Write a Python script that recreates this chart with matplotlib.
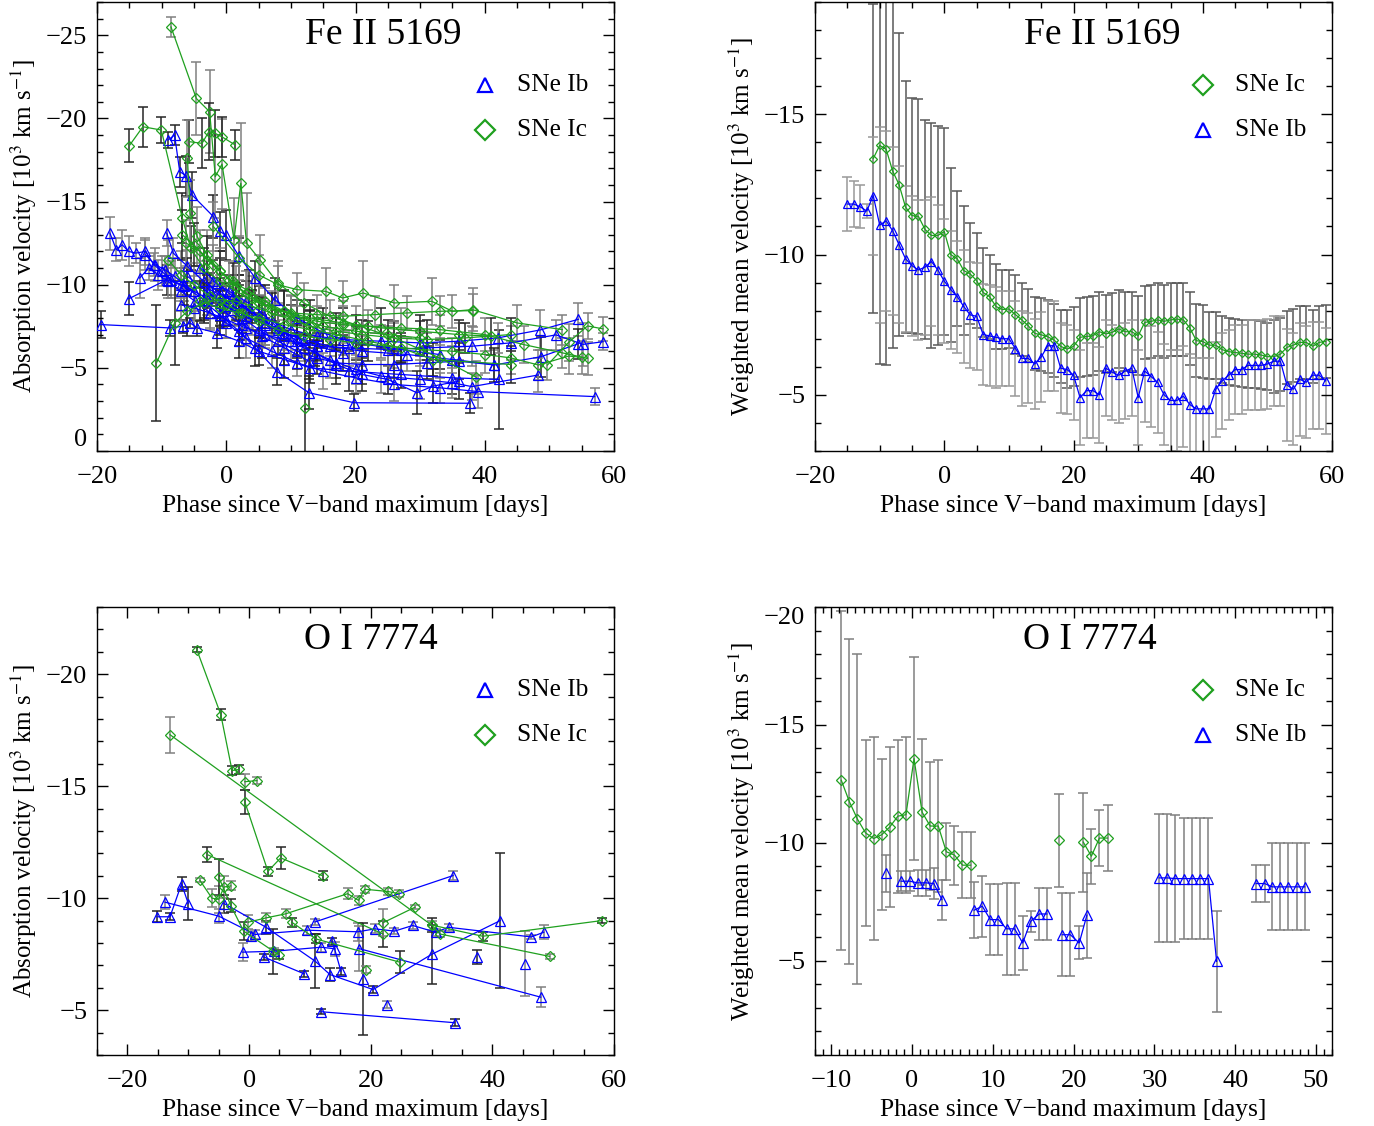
import matplotlib
matplotlib.use('Agg')
import matplotlib.pyplot as plt
import numpy as np
from matplotlib.ticker import MultipleLocator

plt.rcParams['font.family'] = 'Liberation Serif'
plt.rcParams['mathtext.fontset'] = 'stix'

BLUE = '#0000ff'
GREEN = '#1fa01f'
nan = np.nan

#%% Fe II 5169, individual SNe (phase, velocity, error)
fe_ib_phase = [
    [-19.4, -8.7, -6.7, -5.6, -4.5, -1.5, 2, 5, 9, 13, 19, 27, 35, 42.2],
    [-18.0, -17.0, -16.1, -15.1, -14.0, -12.5, -11.2, -10.0, -8.5, -7, -5, -3, -1, 1, 3, 6, 9, 12, 16, 21, 28, 35, 41.5],
    [-15.1, -9.2, -6.5, -3.5, -0.5, 2.5, 5.5, 9, 12.8],
    [-13.4, -12.0, -10.5, -9.0, -7.0, -4.8, -2.5, 0, 3, 7, 11, 15, 20, 26, 33, 39.0, 57.0],
    [-9.0, -8.0, -7.2, -6.2, -5.3, -2.0, -1.0, -0.1, 2, 4.5, 7.5, 11, 15, 20, 27, 33],
    [-9.2, -8.2, -6, -3.5, -1, 1.5, 4, 7, 10, 14, 18, 24, 30, 36, 42, 48.6, 54.5],
    [-3.5, -1, 2, 4.5, 7.9, 12.8, 19.8, 37.7],
    [-7, -5, -2.5, 0, 3, 6, 10, 14, 19, 25, 31, 38, 44, 51.0, 55.2, 58.3],
    [-6, -3, 0, 2.5, 5, 8, 11, 14, 17, 21, 26, 31, 36, 41.5, 48.7, 54.5],
    [-4, -1.5, 1, 3.5, 6, 9, 12, 16, 20, 24, 30, 35, 38.0, 48.3],
    [-2, 0.5, 3, 5.5, 8, 11, 13.7, 17, 21, 25, 29.5, 32, 36],
    [-12.5, -11, -9.5, -8, -6.5, -5],
    [-2.5, 0, 2, 5, 8, 11, 14, 18],
]
fe_ib_vel = [
    [-7.6, -7.4, -7.5, -7.7, -7.4, -7.1, -6.6, -6.0, -5.5, -5.0, -4.8, -4.6, -4.4, -4.3],
    [-13.1, -12.1, -12.4, -12.0, -11.9, -12.0, -11.2, -10.8, -10.3, -10.0, -9.6, -9.2, -8.9, -8.5, -8.1, -7.6, -7.1, -6.7, -6.3, -6.0, -5.8, -5.5, -5.2],
    [-9.15, -10.3, -9.9, -9.1, -8.4, -7.6, -6.9, -6.2, -5.4],
    [-10.4, -11.0, -10.6, -10.2, -9.6, -9.0, -8.3, -7.7, -6.8, -6.0, -5.3, -4.8, -4.4, -4.0, -3.8, -3.57, -3.27],
    [-18.7, -19.0, -16.8, -16.55, -15.4, -14.1, -13.2, -13.0, -11.7, -10.4, -9.1, -8.0, -7.1, -6.5, -6.1, -5.8],
    [-13.1, -11.9, -11.1, -10.2, -9.5, -8.9, -8.3, -7.8, -7.3, -6.9, -6.7, -6.6, -6.5, -6.6, -6.8, -7.28, -7.92],
    [-9.0, -8.2, -7.2, -6.2, -4.77, -3.5, -2.9, -2.87],
    [-8.8, -8.6, -8.3, -7.9, -7.4, -7.0, -6.6, -6.3, -6.2, -6.1, -6.2, -6.3, -6.5, -6.98, -6.41, -6.57],
    [-10.5, -9.6, -8.7, -8.0, -7.3, -6.6, -6.0, -5.6, -5.3, -5.2, -5.2, -5.3, -5.4, -5.17, -5.67, -6.45],
    [-11.0, -10.1, -9.3, -8.5, -7.7, -6.9, -6.2, -5.5, -4.9, -4.5, -4.3, -4.1, -3.87, -4.57],
    [-10.2, -9.6, -9.0, -8.3, -7.4, -6.6, -5.9, -5.2, -4.6, -4.3, -3.5, -3.9, -4.2],
    [-11.8, -11.2, -10.9, -10.5, -10.0, -9.6],
    [-9.7, -9.2, -8.9, -8.1, -7.3, -6.8, -6.3, -5.9],
]
fe_ib_err = [
    [0.8, 0.5, 0.4, 0.3, 0.5, 0.9, 1.0, 0.8, 1.1, 0.9, 1.2, 0.8, 1.0, 3.0],
    [1.0, 0.7, 0.9, 0.9, 0.6, 0.8, 0.7, 0.9, 1.1, 1.0, 1.2, 1.0, 1.3, 1.0, 0.9, 1.2, 1.0, 0.8, 1.1, 0.9, 1.0, 0.8, 0.9],
    [1.0, 0.9, 1.1, 1.2, 1.0, 0.9, 1.3, 1.0, 1.1],
    [1.2, 0.7, 0.9, 1.0, 1.2, 1.1, 1.0, 0.9, 1.2, 1.0, 0.8, 1.1, 0.9, 1.0, 0.9, 1.0, 0.5],
    [0.5, 0.6, 0.9, 1.2, 1.4, 1.3, 1.2, 1.5, 1.1, 1.0, 1.3, 1.1, 0.9, 1.0, 0.8, 0.9],
    [0.8, 0.9, 1.0, 1.2, 1.1, 0.9, 1.3, 1.0, 0.8, 1.1, 0.9, 1.0, 0.8, 1.1, 0.9, 1.2, 1.0],
    [1.0, 1.2, 0.9, 1.1, 0.8, 1.0, 0.5, 0.6],
    [1.0, 1.2, 0.9, 1.1, 1.0, 0.8, 1.2, 0.9, 1.1, 1.0, 0.9, 1.2, 1.0, 0.9, 1.3, 0.5],
    [1.1, 1.0, 1.2, 0.9, 1.0, 0.8, 1.1, 1.0, 0.9, 1.2, 0.8, 1.0, 1.1, 1.0, 1.2, 0.9],
    [1.2, 1.0, 0.9, 1.1, 1.3, 1.0, 0.8, 1.1, 0.9, 1.0, 1.2, 0.9, 0.8, 1.0],
    [1.3, 1.0, 1.2, 0.9, 1.1, 1.0, 0.8, 1.2, 1.0, 0.9, 1.3, 1.0, 1.1],
    [0.9, 1.0, 0.8, 1.1, 1.0, 0.9],
    [1.0, 0.9, 1.1, 1.2, 0.9, 1.0, 0.8, 1.1],
]

fe_ic_phase = [
    [-15.0, -12.9, -10.05, -6.8, -5.5, -3.5, -1, 2, 5, 9, 13, 18, 24, 30, 36, 41],
    [-8.55, -4.63, -2.57, -1.7, -0.66, 1.2, 2.25, 3.14, 5.2, 8, 12, 16, 20, 26, 33, 38.7],
    [-5.7, -3.75, -2.7, -1.7, -0.7, 1.4],
    [-6.0, -5.6, -4.5, -3, -1, 1.5, 4, 7, 10, 14, 18, 23, 28, 33, 38.1],
    [-10.8, -8.0, -6, -3.5, -1, 1.5, 4, 7, 10, 13, 17, 21, 26, 31, 37, 44],
    [-9.0, -7, -5, -2.5, 0, 2.5, 5, 8, 12, 16, 20, 25, 30, 35, 40, 44, 48.3, 53.0, 55.0],
    [-6.8, -5.0, -3, -1, 1, 3.5, 6, 9, 12, 15, 20, 25, 30],
    [-6.2, -4, -2, 0.5, 3, 6, 10, 14, 18, 22, 27, 33, 40, 46, 52, 55.9],
    [12.2],
    [-2, 2, 5, 8, 11, 15.4, 18, 21.2, 26, 31.8, 35, 38.1, 45, 52],
    [-4, -1, 2, 5, 9, 13, 17, 22, 27, 32, 44],
    [49.7, 53.0, 55.9, 58.3],
]
fe_ic_vel = [
    [-18.36, -19.5, -19.3, -14.0, -12.2, -11.0, -10.2, -9.5, -8.9, -8.4, -8.0, -7.7, -7.4, -7.2, -7.0, -6.9],
    [-25.5, -21.2, -20.4, -16.5, -17.25, -12.7, -16.1, -12.5, -11.5, -10.1, -8.9, -8.1, -7.6, -6.8, -5.6, -4.43],
    [-18.6, -18.5, -19.2, -19.1, -18.9, -18.4],
    [-17.6, -14.3, -12.9, -11.8, -10.8, -9.9, -9.2, -8.5, -8.3, -8.2, -8.1, -8.2, -8.3, -8.4, -8.44],
    [-5.3, -7.7, -8.4, -8.9, -9.1, -9.0, -8.7, -8.3, -7.9, -7.5, -7.2, -7.0, -6.8, -6.7, -6.8, -7.0],
    [-11.5, -10.6, -10.0, -9.3, -8.8, -8.3, -7.8, -7.3, -6.9, -6.7, -6.5, -6.3, -6.1, -6.0, -5.8, -5.6, -5.17, -5.71, -5.63],
    [-13.0, -12.4, -11.5, -10.8, -10.2, -9.6, -9.0, -8.4, -7.9, -7.5, -7.2, -7.0, -6.8],
    [-12.5, -12.0, -11.2, -10.3, -9.5, -8.8, -8.2, -7.8, -7.6, -7.5, -7.4, -7.3, -7.0, -6.4, -5.9, -5.57],
    [-2.57],
    [-13.5, -11.6, -10.6, -10.0, -9.7, -9.6, -9.2, -9.5, -8.9, -9.0, -8.4, -8.5, -7.7, -7.3],
    [-9.0, -8.6, -8.3, -8.0, -7.6, -7.3, -7.0, -6.6, -6.2, -5.5, -5.2],
    [-5.17, -6.54, -7.52, -7.34],
]
fe_ic_err = [
    [1.0, 1.2, 0.8, 1.5, 1.3, 1.2, 1.4, 1.1, 1.0, 1.3, 1.1, 0.9, 1.2, 1.0, 0.9, 1.1],
    [0.6, 2.2, 2.5, 2.5, 2.7, 2.5, 3.6, 3.0, 1.5, 1.3, 1.2, 1.0, 1.1, 0.9, 1.2, 1.0],
    [1.3, 1.5, 1.7, 1.4, 1.2, 0.9],
    [2.3, 2.0, 1.8, 1.5, 1.4, 1.2, 1.3, 1.1, 1.0, 1.2, 0.9, 1.1, 1.0, 0.9, 1.0],
    [3.5, 2.5, 1.5, 1.2, 1.3, 1.1, 1.0, 1.2, 0.9, 1.0, 1.1, 0.9, 1.0, 1.2, 0.9, 1.0],
    [1.2, 1.4, 1.3, 1.1, 1.2, 1.0, 1.3, 0.9, 1.1, 1.0, 0.9, 1.2, 1.0, 0.8, 1.1, 1.0, 0.9, 1.1, 1.0],
    [1.5, 1.3, 1.4, 1.2, 1.1, 1.3, 1.0, 1.2, 0.9, 1.1, 1.0, 0.9, 1.0],
    [1.4, 1.3, 1.2, 1.1, 1.3, 1.0, 1.2, 0.9, 1.1, 1.0, 1.2, 0.9, 1.0, 1.1, 0.9, 1.0],
    [3.5],
    [1.5, 1.3, 1.2, 1.1, 1.0, 1.4, 1.0, 1.9, 1.1, 1.4, 1.0, 1.3, 1.1, 0.9],
    [1.2, 1.1, 1.0, 1.2, 0.9, 1.1, 1.0, 1.2, 0.9, 1.0, 1.1],
    [0.9, 1.1, 0.8, 0.7],
]

#%% Fe II 5169, weighted means
fe_ib_mean_phase = [-15, -14, -13, -12, -11, -10, -9, -8, -7, -6, -5, -4, -3, -2, -1, 0, 1, 2, 3, 4,
                    5, 6, 7, 8, 9, 10, 11, 12, 13, 14, 15, 16, 17, 18, 19, 20, 21, 22, 23, 24,
                    25, 26, 27, 28, 29, 30, 31, 32, 33, 34, 35, 36, 37, 38, 39, 40, 41, 42, 43, 44,
                    45, 46, 47, 48, 49, 50, 51, 52, 53, 54, 55, 56, 57, 58, 59]
fe_ib_mean_vel = [-11.8, -11.8, -11.7, -11.55, -12.1, -11.05, -11.2, -10.85, -10.35, -9.85,
                  -9.6, -9.45, -9.55, -9.75, -9.45, -9.05, -8.75, -8.5, -8.15, -7.85,
                  -7.8, -7.15, -7.1, -7.05, -7.0, -7.0, -6.65, -6.3, -6.3, -6.1,
                  -6.35, -6.75, -6.75, -5.95, -5.9, -5.7, -4.9, -5.15, -5.15, -5.0,
                  -5.95, -5.8, -5.7, -5.85, -5.95, -4.9, -5.85, -5.65, -5.45, -5.0,
                  -4.8, -4.8, -4.95, -4.65, -4.5, -4.5, -4.5, -5.2, -5.5, -5.7,
                  -5.9, -5.9, -6.05, -6.05, -6.05, -6.1, -6.2, -6.2, -5.35, -5.2,
                  -5.55, -5.45, -5.7, -5.7, -5.5]
fe_ib_mean_err = [0.95, 0.82, 0.77, 0.25, 2.1, 3.5, 3.2, 3.0, 2.8, 2.6,
                  2.5, 2.5, 2.4, 2.3, 2.3, 2.2, 2.1, 2.0, 2.0, 1.9,
                  1.9, 1.8, 1.8, 1.8, 1.7, 1.7, 1.7, 1.7, 1.6, 1.6,
                  1.6, 1.6, 1.6, 1.6, 1.6, 1.6, 1.7, 1.7, 1.7, 1.7,
                  1.7, 1.7, 1.7, 1.7, 1.7, 1.7, 1.8, 1.8, 1.8, 1.8,
                  1.8, 1.8, 1.8, 1.8, 1.8, 1.8, 1.8, 1.7, 1.7, 1.6,
                  1.6, 1.6, 1.6, 1.6, 1.6, 1.6, 1.6, 1.6, 2.0, 2.0,
                  2.0, 2.0, 1.9, 1.9, 1.9]

fe_ic_mean_phase = [-11, -10, -9, -8, -7, -6, -5, -4, -3, -2, -1, 0, 1, 2, 3, 4, 5, 6, 7, 8,
                    9, 10, 11, 12, 13, 14, 15, 16, 17, 18, 19, 20, 21, 22, 23, 24, 25, 26, 27, 28,
                    29, 30, 31, 32, 33, 34, 35, 36, 37, 38, 39, 40, 41, 42, 43, 44, 45, 46, 47, 48,
                    49, 50, 51, 52, 53, 54, 55, 56, 57, 58, 59]
fe_ic_mean_vel = [-13.42, -13.89, -13.75, -12.98, -12.49, -11.69, -11.39, -11.36, -10.90, -10.68,
                  -10.68, -10.82, -10.0, -9.85, -9.43, -9.31, -9.07, -8.65, -8.50, -8.15,
                  -8.04, -8.06, -7.86, -7.67, -7.46, -7.19, -7.14, -7.07, -6.95, -6.73,
                  -6.63, -6.73, -7.05, -7.08, -7.11, -7.25, -7.17, -7.23, -7.35, -7.25,
                  -7.25, -7.11, -7.58, -7.62, -7.67, -7.62, -7.67, -7.70, -7.67, -7.38,
                  -6.93, -6.90, -6.77, -6.77, -6.61, -6.54, -6.51, -6.48, -6.45, -6.45,
                  -6.42, -6.36, -6.36, -6.45, -6.69, -6.77, -6.87, -6.87, -6.73, -6.87,
                  -6.90]
fe_ic_mean_err = [5.5, 7.8, 7.7, 6.3, 5.4, 4.5, 4.2, 4.2, 3.9, 4.0, 3.9, 3.7,
                  3.1, 2.4, 2.3, 1.8, 1.7, 1.6, 1.5, 1.5, 1.4, 1.4,
                  1.4, 1.3, 1.3, 1.3, 1.3, 1.3, 1.3, 1.3, 1.4, 1.4,
                  1.4, 1.4, 1.4, 1.4, 1.4, 1.4, 1.4, 1.4, 1.4, 1.4,
                  1.3, 1.3, 1.3, 1.3, 1.3, 1.3, 1.3, 1.3, 1.3, 1.3,
                  1.2, 1.2, 1.2, 1.2, 1.2, 1.2, 1.2, 1.2, 1.2, 1.2,
                  1.3, 1.3, 1.3, 1.3, 1.3, 1.3, 1.3, 1.3, 1.3]

#%% O I 7774, individual SNe
oi_ib_phase = [
    [-15.1, -13.0, -11.1, -10.0],
    [-13.8, -5.0, 1.0, 9.6, 17.9, 20.7, 23.9, 26.9, 30.7, 32.8, 46.4, 48.45],
    [-4.1, 2.8, 10.85, 13.3, 20.4, 30.0, 41.3],
    [-1.05, 4.1, 11.85, 14.1],
    [2.44, 9.08],
    [10.85, 33.55],
    [11.85, 33.78],
    [18.05, 47.95],
    [13.7, 15.1],
    [22.6], [37.4], [45.3], [18.8], [0.33],
]
oi_ib_vel = [
    [-9.17, -9.17, -10.64, -9.76],
    [-9.82, -9.2, -8.38, -8.57, -8.5, -8.63, -8.53, -8.78, -8.48, -8.7, -8.27, -8.48],
    [-9.76, -8.7, -7.19, -6.59, -5.92, -7.49, -9.0],
    [-7.59, -7.63, -7.81, -7.74],
    [-7.37, -6.62],
    [-8.94, -11.01],
    [-4.93, -4.44],
    [-7.75, -5.58],
    [-8.08, -6.74],
    [-5.25], [-7.37], [-7.08], [-6.4], [-8.3],
]
oi_ib_err = [
    [0.25, 0.15, 0.3, 0.75],
    [0.3, 0.3, 0.2, 0.2, 0.4, 0.2, 0.15, 0.15, 0.15, 0.15, 0.1, 0.3],
    [0.4, 0.3, 1.2, 0.3, 0.15, 1.3, 3.0],
    [0.4, 0.15, 0.2, 0.3],
    [0.15, 0.15],
    [0.15, 0.2],
    [0.1, 0.15],
    [1.0, 0.45],
    [0.15, 0.15],
    [0.15], [0.3], [1.45], [2.5], [0.2],
]

oi_ic_phase = [
    [-8.6, -4.65, -2.8, -1.6],
    [-0.7, 1.3],
    [-0.7, 3.1, 5.2, 12.1],
    [-13.0, 30.0, 31.4, 49.4],
    [-6.9, 22.0],
    [22.0, 27.3],
    [30.0, 38.4, 58.0],
    [-8.1, -6.1, -5.0, -4.1, -3.0],
    [-5.0, -3.0, -0.9, 4.0, 4.9],
    [-0.1, 2.8, 6.0, 16.2, 18.0, 19.0, 22.8, 24.7],
    [7.0, 11.0, 24.8],
    [19.3],
]
oi_ic_vel = [
    [-21.1, -18.2, -15.7, -15.75],
    [-15.2, -15.25],
    [-14.3, -11.2, -11.8, -11.0],
    [-17.3, -8.8, -8.4, -7.4],
    [-11.95, -8.4],
    [-8.9, -9.6],
    [-8.8, -8.3, -9.0],
    [-10.8, -10.0, -9.95, -10.5, -10.55],
    [-10.95, -9.67, -8.53, -7.63, -7.48],
    [-8.93, -9.12, -9.3, -10.2, -9.9, -10.4, -10.3, -10.2],
    [-8.93, -8.18, -7.14],
    [-6.8],
]
oi_ic_err = [
    [0.1, 0.25, 0.2, 0.2],
    [0.35, 0.15],
    [0.55, 0.2, 0.5, 0.2],
    [0.8, 0.2, 0.15, 0.1],
    [0.35, 0.6],
    [0.6, 0.1],
    [0.3, 0.2, 0.1],
    [0.1, 0.4, 0.6, 0.5, 0.2],
    [0.8, 0.3, 0.4, 1.0, 0.2],
    [0.3, 0.2, 0.2, 0.25, 0.2, 0.15, 0.15, 0.15],
    [0.2, 0.2, 0.5],
    [0.15],
]

#%% O I 7774, weighted means (nan = no data, breaks the line)
oi_ic_mean_phase = [-8.75, -7.75, -6.75, -5.75, -4.75, -3.75, -2.75, -1.75, -0.75, 0.25, 1.25, 2.25,
                    3.25, 4.25, 5.25, 6.25, 7.25, nan, 18.2, nan, 21.2, 22.2, 23.2, 24.2]
oi_ic_mean_vel = [-12.65, -11.74, -11.0, -10.42, -10.18, -10.34, -10.67, -11.13, -11.19, -13.57, -11.3, -10.71,
                  -10.71, -9.62, -9.48, -9.05, -9.05, nan, -10.1, nan, -10.03, -9.43, -10.2, -10.2]
oi_ic_mean_err = [7.2, 6.9, 7.0, 3.95, 4.3, 3.2, 3.4, 3.25, 3.3, 4.3, 3.1, 2.7,
                  2.8, 1.2, 1.25, 1.4, 1.4, nan, 1.96, nan, 2.1, 1.16, 1.19, 1.4]

oi_ib_mean_phase = [-3.2, nan, -1.35, -0.3, 0.7, 1.7, 2.7, 3.7, nan,
                    7.7, 8.7, 9.7, 10.7, 11.7, 12.7, 13.7, 14.7, 15.75, 16.7, nan,
                    18.6, 19.6, 20.7, 21.65, nan,
                    30.6, 31.6, 32.6, 33.65, 34.7, 35.7, 36.7, 37.7, nan,
                    42.6, 43.65, 44.6, 45.6, 46.6, 47.65, 48.6]
oi_ib_mean_vel = [-8.70, nan, -8.37, -8.37, -8.30, -8.30, -8.27, -7.59, nan,
                  -7.14, -7.31, -6.74, -6.74, -6.35, -6.35, -5.75, -6.67, -6.98, -6.98, nan,
                  -6.1, -6.1, -5.75, -6.93, nan,
                  -8.51, -8.51, -8.48, -8.48, -8.48, -8.48, -8.48, -4.97, nan,
                  -8.27, -8.27, -8.13, -8.13, -8.13, -8.13, -8.13]
oi_ib_mean_err = [0.8, nan, 0.43, 0.43, 0.55, 0.55, 0.65, 0.85, nan,
                  1.2, 1.3, 1.5, 1.5, 1.95, 1.95, 1.15, 0.45, 1.1, 1.1, nan,
                  1.75, 1.75, 0.7, 1.8, nan,
                  2.7, 2.7, 2.7, 2.55, 2.55, 2.57, 2.57, 2.13, nan,
                  0.78, 0.78, 1.85, 1.85, 1.85, 1.85, 1.85]


def style_axes(ax, xlim, ylim, xmaj, xmin, ymaj, ymin, ylabel):
    ax.set_xlim(*xlim)
    ax.set_ylim(*ylim)
    ax.xaxis.set_major_locator(MultipleLocator(xmaj))
    ax.xaxis.set_minor_locator(MultipleLocator(xmin))
    ax.yaxis.set_major_locator(MultipleLocator(ymaj))
    ax.yaxis.set_minor_locator(MultipleLocator(ymin))
    ax.tick_params(which='both', direction='in', top=True, right=True, labelsize=19, width=1)
    ax.tick_params(which='major', length=8)
    ax.tick_params(which='minor', length=4.5)
    ax.tick_params(axis='x', which='major', pad=11)
    ax.tick_params(axis='y', which='major', pad=7)
    for s in ax.spines.values():
        s.set_linewidth(1)
    ax.set_xlabel('Phase since V\u2212band maximum [days]', fontsize=18.4, labelpad=5)
    ax.set_ylabel(ylabel, fontsize=18, labelpad=5)


def draw_sne(ax, phases, vels, errs, color, marker, ms):
    greys = ['0.15', '0.5']
    for i, (x, y, e) in enumerate(zip(phases, vels, errs)):
        ax.errorbar(x, y, yerr=e, fmt='none', ecolor=greys[i % 2], elinewidth=1.1,
                    capsize=3.5, capthick=1.1, zorder=1)
    for x, y in zip(phases, vels):
        ax.plot(x, y, color=color, lw=0.9, marker=marker, ms=ms, mfc='none',
                mec=color, mew=0.9, zorder=3)


def draw_mean(ax, x, y, e, color, marker, ms, ecolor):
    ax.errorbar(x, y, yerr=e, fmt='none', ecolor=ecolor, elinewidth=1.1,
                capsize=3.5, capthick=1.1, zorder=1)
    ax.plot(x, y, color=color, lw=0.9, marker=marker, ms=ms, mfc='none',
            mec=color, mew=0.9, zorder=3)


def add_key(ax, entries):
    for k, (label, color, marker) in enumerate(entries):
        yk = 0.815 - 0.1 * k
        ax.plot([0.7505], [yk], transform=ax.transAxes, marker=marker, ms=10, mfc='none',
                mec=color, mew=1.6, ls='none', clip_on=False)
        ax.text(0.812, yk, label, transform=ax.transAxes, fontsize=18.3, va='center')


def nudge_edge_label(ax, value, va):
    # keep the tick label that sits on the frame edge inside the frame
    for t in ax.yaxis.get_major_ticks():
        if abs(t.get_loc() - value) < 1e-6:
            t.label1.set_verticalalignment(va)


fig = plt.figure(figsize=(13.74, 11.26), dpi=100)
ax_tl = fig.add_axes([0.0706, 0.5995, 0.3763, 0.3987])
ax_tr = fig.add_axes([0.5932, 0.5995, 0.3763, 0.3987])
ax_bl = fig.add_axes([0.0706, 0.0631, 0.3763, 0.3978])
ax_br = fig.add_axes([0.5932, 0.0631, 0.3763, 0.3978])

abs_label = 'Absorption velocity [10$^3$ km s$^{-1}$]'
mean_label = 'Weighted mean velocity [10$^3$ km s$^{-1}$]'

# top left
draw_sne(ax_tl, fe_ib_phase, fe_ib_vel, fe_ib_err, BLUE, '^', 6.5)
draw_sne(ax_tl, fe_ic_phase, fe_ic_vel, fe_ic_err, GREEN, 'D', 5)
style_axes(ax_tl, (-20, 60), (0, -27), 20, 5, 5, 1, abs_label)
ax_tl.text(0.553, 0.927, 'Fe II 5169', transform=ax_tl.transAxes, ha='center', va='center', fontsize=27)
add_key(ax_tl, [('SNe Ib', BLUE, '^'), ('SNe Ic', GREEN, 'D')])

# top right
draw_mean(ax_tr, fe_ic_mean_phase, fe_ic_mean_vel, fe_ic_mean_err, GREEN, 'D', 4.5, '0.35')
draw_mean(ax_tr, fe_ib_mean_phase, fe_ib_mean_vel, fe_ib_mean_err, BLUE, '^', 6, '0.6')
style_axes(ax_tr, (-20, 60), (-3, -19), 20, 5, 5, 1, mean_label)
ax_tr.text(0.555, 0.927, 'Fe II 5169', transform=ax_tr.transAxes, ha='center', va='center', fontsize=27)
add_key(ax_tr, [('SNe Ic', GREEN, 'D'), ('SNe Ib', BLUE, '^')])

# bottom left
draw_sne(ax_bl, oi_ib_phase, oi_ib_vel, oi_ib_err, BLUE, '^', 6.5)
draw_sne(ax_bl, oi_ic_phase, oi_ic_vel, oi_ic_err, GREEN, 'D', 5)
style_axes(ax_bl, (-25, 60), (-3, -23), 20, 5, 5, 1, abs_label)
ax_bl.text(0.53, 0.926, 'O I 7774', transform=ax_bl.transAxes, ha='center', va='center', fontsize=27)
add_key(ax_bl, [('SNe Ib', BLUE, '^'), ('SNe Ic', GREEN, 'D')])

# bottom right
draw_mean(ax_br, oi_ic_mean_phase, oi_ic_mean_vel, oi_ic_mean_err, GREEN, 'D', 5, '0.5')
draw_mean(ax_br, oi_ib_mean_phase, oi_ib_mean_vel, oi_ib_mean_err, BLUE, '^', 6.5, '0.5')
style_axes(ax_br, (-12, 52), (-1, -20), 10, 1, 5, 1, mean_label)
ax_br.text(0.532, 0.926, 'O I 7774', transform=ax_br.transAxes, ha='center', va='center', fontsize=27)
add_key(ax_br, [('SNe Ic', GREEN, 'D'), ('SNe Ib', BLUE, '^')])

fig.canvas.draw()
nudge_edge_label(ax_tl, 0, 'bottom')
nudge_edge_label(ax_br, -20, 'top')

fig.savefig('out.png', dpi=100)
